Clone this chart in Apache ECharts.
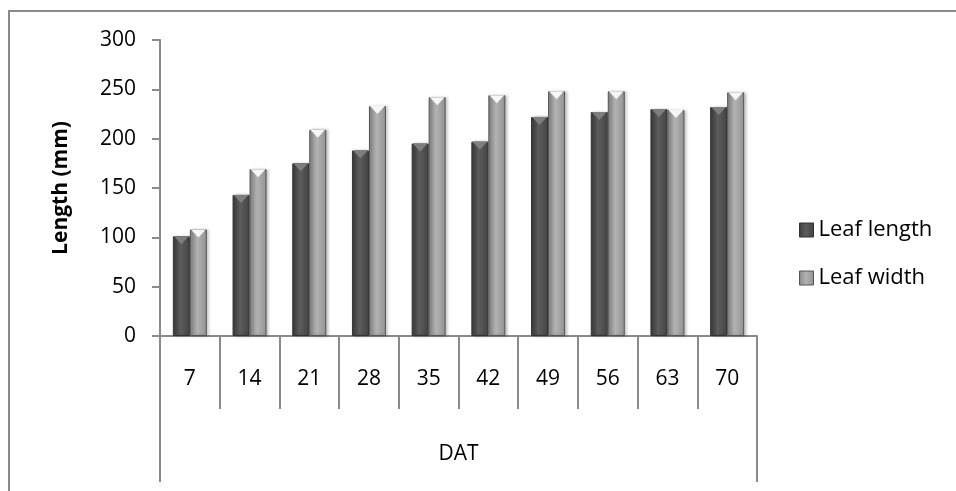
<!DOCTYPE html>
<html>
<head>
<meta charset="utf-8">
<script src="https://cdn.jsdelivr.net/npm/echarts@6/dist/echarts.min.js"></script>
<style>
  html, body { margin: 0; padding: 0; background: #fff; }
  #chart { width: 956px; height: 491px; }
</style>
</head>
<body>
<div id="chart"></div>
<script>
// Days after transplanting
const categories = ['7', '14', '21', '28', '35', '42', '49', '56', '63', '70'];
const groupLabel = ['DAT'];
// Leaf measurements (mm)
const leafLength = [101, 143, 175, 188, 195, 197, 222, 227, 230, 232];
const leafWidth = [108, 169, 209, 233, 242, 244, 248, 248, 229, 247];
const yTicks = { min: 0, max: 300, interval: 50 };

const FONT = 'Open Sans';
const axisGray = '#8a8a8a';

const darkFill = new echarts.graphic.LinearGradient(0, 0, 1, 0, [
  { offset: 0, color: '#3c3c3c' },
  { offset: 0.45, color: '#5c5c5c' },
  { offset: 1, color: '#444444' }
]);
const lightFill = new echarts.graphic.LinearGradient(0, 0, 1, 0, [
  { offset: 0, color: '#888888' },
  { offset: 0.45, color: '#b2b2b2' },
  { offset: 1, color: '#929292' }
]);

const barCommon = {
  type: 'bar',
  barWidth: 17,
  barGap: '0%',
  xAxisIndex: 0,
  z: 2
};
// Bevelled top of each bar
const capCommon = {
  type: 'pictorialBar',
  symbol: 'triangle',
  symbolRotate: 180,
  symbolSize: [15, 8],
  symbolPosition: 'end',
  barWidth: 17,
  barGap: '0%',
  xAxisIndex: 0,
  silent: true,
  z: 3
};

const chart = echarts.init(document.getElementById('chart'));
chart.setOption({
  animation: false,
  textStyle: { fontFamily: FONT },
  graphic: [{
    type: 'polyline',
    shape: { points: [[9, 491], [9, 11], [956, 11]] },
    style: { stroke: axisGray, lineWidth: 2, fill: null },
    silent: true
  }],
  grid: { left: 160, right: 199, top: 40, bottom: 155, containLabel: false },
  legend: {
    orient: 'vertical',
    left: 794,
    top: 213,
    itemWidth: 14,
    itemHeight: 14,
    itemGap: 24,
    itemTextGap: 12,
    icon: 'rect',
    textStyle: { fontFamily: FONT, fontSize: 22, color: '#000', lineHeight: 24 },
    data: [
      { name: 'Leaf length', itemStyle: { color: darkFill, borderColor: '#333', borderWidth: 1 } },
      { name: 'Leaf width', itemStyle: { color: lightFill, borderColor: '#555', borderWidth: 1 } }
    ]
  },
  xAxis: [{
    type: 'category',
    data: categories,
    position: 'bottom',
    axisLine: { show: true, lineStyle: { color: axisGray, width: 2 } },
    axisTick: { show: true, length: 73, lineStyle: { color: axisGray, width: 2 } },
    axisLabel: { margin: 33, fontFamily: FONT, fontSize: 21, color: '#000' },
    splitLine: { show: false }
  }, {
    type: 'category',
    data: groupLabel,
    position: 'bottom',
    axisLine: { show: false },
    axisTick: { show: true, length: 146, lineStyle: { color: axisGray, width: 2 } },
    axisLabel: { margin: 108, fontFamily: FONT, fontSize: 21, color: '#000' },
    splitLine: { show: false }
  }],
  yAxis: {
    type: 'value',
    min: yTicks.min,
    max: yTicks.max,
    interval: yTicks.interval,
    name: 'Length (mm)',
    nameLocation: 'middle',
    nameRotate: 90,
    nameGap: 88,
    nameTextStyle: { fontFamily: FONT, fontSize: 21, fontWeight: 'bold', color: '#000' },
    axisLine: { show: true, lineStyle: { color: axisGray, width: 2 } },
    axisTick: { show: true, length: 8, lineStyle: { color: axisGray, width: 2 } },
    axisLabel: { margin: 24, fontFamily: FONT, fontSize: 21, color: '#000' },
    splitLine: { show: false }
  },
  series: [
    Object.assign({}, barCommon, {
      name: 'Leaf length',
      data: leafLength,
      itemStyle: {
        color: darkFill, borderColor: '#333', borderWidth: 1,
        shadowBlur: 3, shadowColor: 'rgba(0,0,0,0.25)', shadowOffsetX: 2
      }
    }),
    Object.assign({}, barCommon, {
      name: 'Leaf width',
      data: leafWidth,
      itemStyle: {
        color: lightFill, borderColor: '#555', borderWidth: 1,
        shadowBlur: 3, shadowColor: 'rgba(0,0,0,0.25)', shadowOffsetX: 2
      }
    }),
    Object.assign({}, capCommon, {
      name: 'Leaf length',
      data: leafLength,
      itemStyle: { color: '#7e7e7e' }
    }),
    Object.assign({}, capCommon, {
      name: 'Leaf width',
      data: leafWidth,
      itemStyle: { color: '#f6f6f6' }
    })
  ]
});
</script>
</body>
</html>
